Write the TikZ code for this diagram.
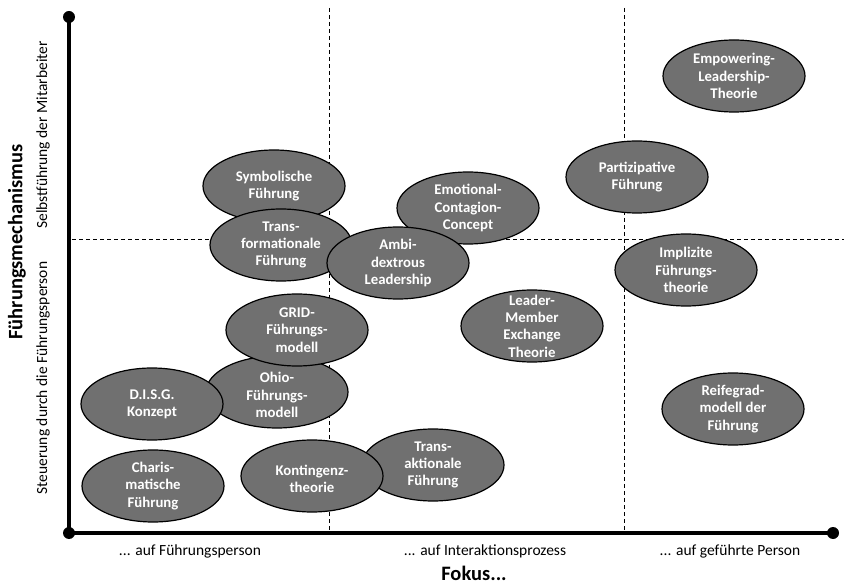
\documentclass[tikz,border=0pt]{standalone}
\usepackage{fontspec}
\setmainfont{Carlito}
\usetikzlibrary{shapes.geometric}
\definecolor{ellfill}{HTML}{707070}
\tikzset{
  ell/.style={ellipse, draw=black, line width=1.2pt, fill=ellfill, minimum width=142pt, minimum height=72pt, inner sep=0pt},
  etext/.style={text=white, align=center, font=\fontsize{14.8}{17.3}\selectfont\bfseries, inner sep=0pt},
  axis/.style={line width=4pt},
  dot/.style={circle, fill=black, minimum size=12pt, inner sep=0pt},
  grid/.style={line width=0.8pt, dash pattern=on 4pt off 3pt},
  axlab/.style={font=\fontsize{15.5}{18}\selectfont, inner sep=0pt},
  biglab/.style={font=\fontsize{20.5}{24}\selectfont\bfseries, inner sep=0pt}
}
\begin{document}
\begin{tikzpicture}[x=1pt,y=-1pt]
\useasboundingbox (0,0) rectangle (844,585);
% grid
\coordinate (v1t) at (329,8); \coordinate (v1b) at (329,533);
\coordinate (v2t) at (624,8); \coordinate (v2b) at (624,533);
\coordinate (hl) at (72,239); \coordinate (hr) at (844,239);
\draw[grid] (v1t) -- (v1b);
\draw[grid] (v2t) -- (v2b);
\draw[grid] (hl) -- (hr);
% axes
\node[dot] (top) at (69,17) {};
\node[dot] (org) at (69,533) {};
\node[dot] (right) at (833,533) {};
\draw[axis] (top.center) -- (org.center) -- (right.center);
% ellipses
\node[ell] (emp) at (734,76) {};
\node[etext] (emp-t) at (emp) {Empowering-\\Leadership-\\Theorie};
\node[ell] (part) at (637,177) {};
\node[etext] (part-t) at (part) {Partizipative\\Führung};
\node[ell] (sym) at (274,186) {};
\node[etext] (sym-t) at (sym) {Symbolische\\Führung};
\node[ell] (trf) at (281,245) {};
\node[etext] (trf-t) at (trf) {Trans-\\formationale\\Führung};
\node[ell] (emo) at (468,208) {};
\node[etext] (emo-t) at (emo) {Emotional-\\Contagion-\\Concept};
\node[ell] (amb) at (398,263) {};
\node[etext] (amb-t) at (amb) {Ambi-\\dextrous\\Leadership};
\node[ell] (impl) at (686,270) {};
\node[etext] (impl-t) at (impl) {Implizite\\Führungs-\\theorie};
\node[ell] (lmx) at (532,326) {};
\node[etext] (lmx-t) at (lmx) {Leader-\\Member\\Exchange\\Theorie};
\node[ell] (ohio) at (277,392) {};
\node[etext] (ohio-t) at ([yshift=-3pt]ohio) {Ohio-\\Führungs-\\modell};
\node[ell] (grid) at (297,330) {};
\node[etext] (grid-t) at (grid) {GRID-\\Führungs-\\modell};
\node[ell] (disg) at (152,404) {};
\node[etext] (disg-t) at (disg) {D.I.S.G.\\Konzept};
\node[ell] (reif) at (733,409) {};
\node[etext] (reif-t) at (reif) {Reifegrad-\\modell der\\Führung};
\node[ell] (char) at (153,486) {};
\node[etext] (char-t) at (char) {Charis-\\matische\\Führung};
\node[ell] (trak) at (433,465) {};
\node[etext] (trak-t) at (trak) {Trans-\\aktionale\\Führung};
\node[ell] (kont) at (312,476) {};
\node[etext] (kont-t) at ([yshift=-3pt]kont) {Kontingenz-\\theorie};
% axis labels
\node[biglab, rotate=90] (ylab) at (17,242) {Führungsmechanismus};
\node[axlab, rotate=90] (yhi) at (43,135) {Selbstführung der Mitarbeiter};
\node[axlab, rotate=90] (ylo) at (43,378) {Steuerung durch die Führungsperson};
\node[axlab] (x1) at (190,551) {... auf Führungsperson};
\node[axlab] (x2) at (485,551) {... auf Interaktionsprozess};
\node[axlab] (x3) at (730,551) {... auf geführte Person};
\node[biglab] (xlab) at (474,573) {Fokus...};
\end{tikzpicture}
\end{document}
